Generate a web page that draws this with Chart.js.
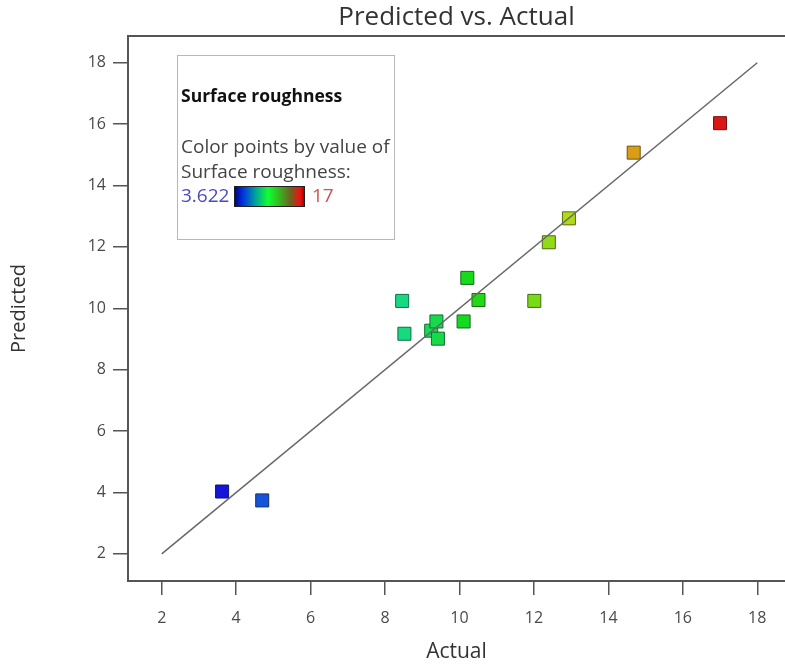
<!DOCTYPE html>
<html>
<head>
<meta charset="utf-8">
<script src="https://cdn.jsdelivr.net/npm/chart.js@4.4.1/dist/chart.umd.min.js"></script>
<style>
  html, body { margin: 0; padding: 0; background: #ffffff; }
  #wrap { width: 785px; height: 666px; }
</style>
</head>
<body>
<div id="wrap"><canvas id="c" width="785" height="666"></canvas></div>
<script>
// ---- data ----
const actual    = [3.622, 4.70, 8.46, 8.52, 9.24, 9.38, 9.42, 10.11, 10.21, 10.51, 12.01, 12.40, 12.94, 14.68, 17.00];
const predicted = [4.03, 3.74, 10.24, 9.17, 9.27, 9.57, 9.01, 9.57, 10.99, 10.27, 10.24, 12.15, 12.93, 15.07, 16.03];
const xTicks = [2, 4, 6, 8, 10, 12, 14, 16, 18];
const yTicks = [2, 4, 6, 8, 10, 12, 14, 16, 18];
const diagonal = [2, 18];
const colorMin = 3.622;
const colorMax = 17;
const chartTitle = 'Predicted vs. Actual';
const xTitle = 'Actual';
const yTitle = 'Predicted';
const legendTitle = 'Surface roughness';
const legendLines = ['Color points by value of', 'Surface roughness:'];
const legendMinLabel = '3.622';
const legendMaxLabel = '17';

const FONT = "'Open Sans', 'Noto Sans', sans-serif";

function hueFor(v) {
  const t = Math.max(0, Math.min(1, (v - colorMin) / (colorMax - colorMin)));
  return 240 * (1 - t);
}
const fillColors = actual.map(v => `hsl(${hueFor(v)}, 82%, 47%)`);
const edgeColors = actual.map(v => `hsl(${hueFor(v)}, 70%, 25%)`);

const decorPlugin = {
  id: 'decor',
  afterDraw(chart) {
    const ctx = chart.ctx;
    const a = chart.chartArea;
    ctx.save();
    // top frame line
    ctx.strokeStyle = '#555';
    ctx.lineWidth = 2;
    ctx.beginPath();
    ctx.moveTo(a.left, a.top);
    ctx.lineTo(a.right, a.top);
    ctx.stroke();

    // title
    ctx.fillStyle = '#333';
    ctx.font = `26px ${FONT}`;
    ctx.textAlign = 'center';
    ctx.textBaseline = 'middle';
    ctx.fillText(chartTitle, (a.left + a.right) / 2, 18);

    // legend box
    const bx = 177, by = 55, bw = 217, bh = 184;
    ctx.fillStyle = '#ffffff';
    ctx.fillRect(bx, by, bw, bh);
    ctx.strokeStyle = '#b8b8b8';
    ctx.lineWidth = 1;
    ctx.strokeRect(bx + 0.5, by + 0.5, bw, bh);

    ctx.textAlign = 'left';
    ctx.fillStyle = '#111';
    ctx.font = `bold 17.5px ${FONT}`;
    ctx.fillText(legendTitle, 181, 97);

    ctx.fillStyle = '#444';
    ctx.font = `19px ${FONT}`;
    ctx.fillText(legendLines[0], 181, 148);
    ctx.fillText(legendLines[1], 181, 173);

    ctx.fillStyle = '#4a4ac4';
    ctx.fillText(legendMinLabel, 181, 197);
    ctx.fillStyle = '#cc5555';
    ctx.fillText(legendMaxLabel, 312, 197);

    const gx = 234, gy = 186, gw = 71, gh = 21;
    const g = ctx.createLinearGradient(gx, 0, gx + gw, 0);
    g.addColorStop(0.00, '#000070');
    g.addColorStop(0.12, '#0030e0');
    g.addColorStop(0.30, '#00a0a0');
    g.addColorStop(0.48, '#10ff30');
    g.addColorStop(0.62, '#30c020');
    g.addColorStop(0.80, '#706020');
    g.addColorStop(0.93, '#f01010');
    g.addColorStop(1.00, '#900000');
    ctx.fillStyle = g;
    ctx.fillRect(gx, gy, gw, gh);
    ctx.strokeStyle = '#202020';
    ctx.lineWidth = 1;
    ctx.strokeRect(gx + 0.5, gy + 0.5, gw - 1, gh - 1);
    ctx.restore();
  }
};

new Chart(document.getElementById('c'), {
  type: 'scatter',
  data: {
    datasets: [
      {
        type: 'line',
        data: diagonal.map(v => ({ x: v, y: v })),
        borderColor: '#686868',
        borderWidth: 1.5,
        pointRadius: 0,
        fill: false,
        order: 0
      },
      {
        data: actual.map((v, i) => ({ x: v, y: predicted[i] })),
        pointStyle: 'rect',
        pointRadius: 9.2,
        pointHoverRadius: 9.2,
        backgroundColor: fillColors,
        borderColor: edgeColors,
        borderWidth: 1,
        order: 1
      }
    ]
  },
  options: {
    responsive: false,
    animation: false,
    events: [],
    layout: { autoPadding: false, padding: { top: 36, left: 0, right: 0, bottom: 0 } },
    plugins: {
      legend: { display: false },
      tooltip: { enabled: false },
      title: { display: false }
    },
    scales: {
      x: {
        type: 'linear',
        min: 1.094,
        max: 18.745,
        afterBuildTicks: s => { s.ticks = xTicks.map(v => ({ value: v })); },
        afterFit: s => { s.height = 85; },
        grid: { drawOnChartArea: false, drawTicks: true, tickLength: 14, color: '#555', lineWidth: 1.5 },
        border: { display: true, color: '#555', width: 2 },
        ticks: { color: '#4a4a4a', font: { family: FONT, size: 16 }, padding: 14, maxRotation: 0, autoSkip: false },
        title: { display: true, text: xTitle, color: '#333', font: { family: FONT, size: 21 }, padding: { top: 0, bottom: 1 } }
      },
      y: {
        type: 'linear',
        min: 1.115,
        max: 18.87,
        afterBuildTicks: s => { s.ticks = yTicks.map(v => ({ value: v })); },
        afterFit: s => { s.width = 128; },
        grid: { drawOnChartArea: false, drawTicks: true, tickLength: 15, color: '#555', lineWidth: 1.5 },
        border: { display: true, color: '#555', width: 2 },
        ticks: { color: '#4a4a4a', font: { family: FONT, size: 16 }, padding: 7, autoSkip: false },
        title: { display: true, text: yTitle, color: '#333', font: { family: FONT, size: 20 }, padding: { top: 7, bottom: 0 } }
      }
    }
  },
  plugins: [decorPlugin]
});
</script>
</body>
</html>
